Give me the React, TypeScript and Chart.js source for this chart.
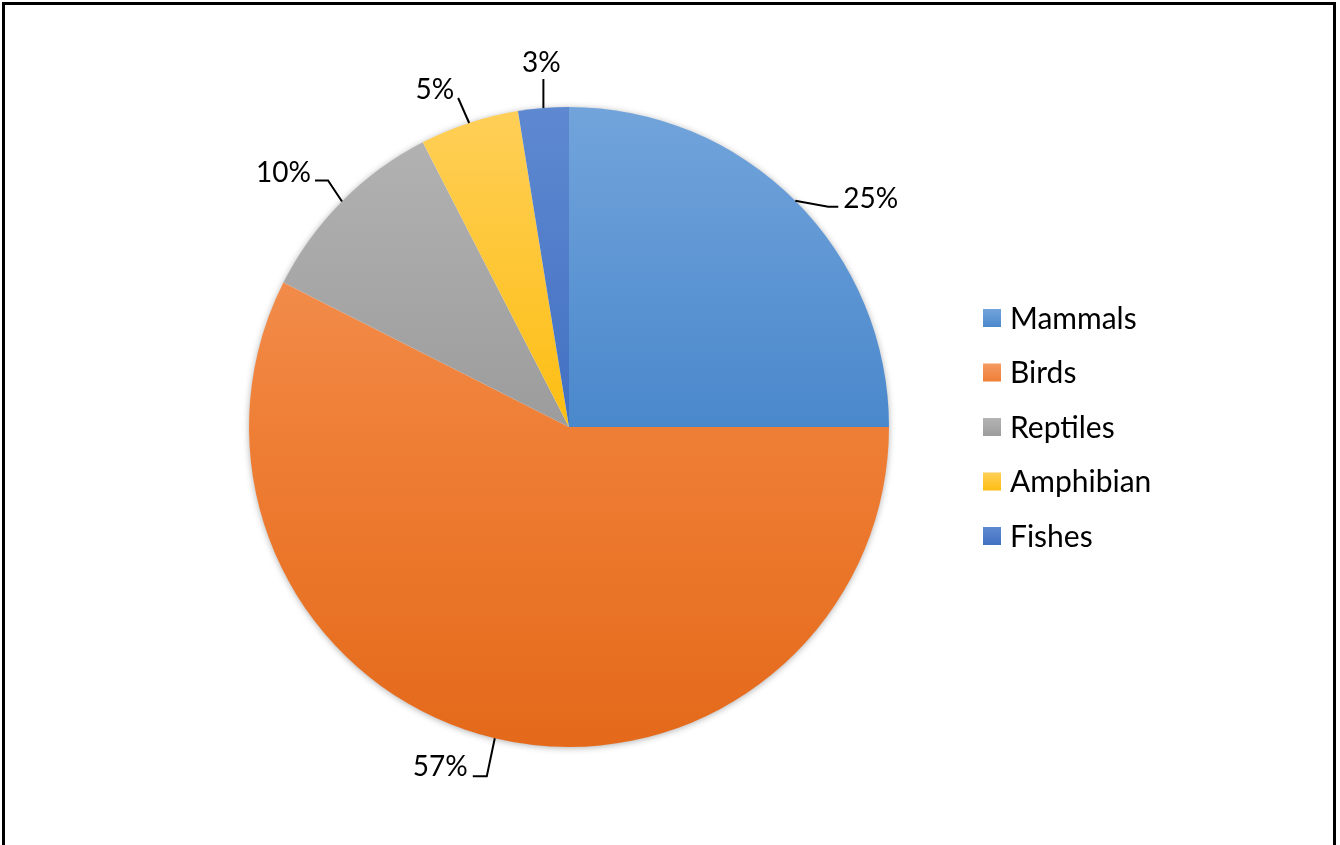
import React, { useEffect, useRef } from "react";
import { Chart, registerables } from "chart.js";

Chart.register(...registerables);

// ---- data ----
const categories = ["Mammals", "Birds", "Reptiles", "Amphibian", "Fishes"];
const shares = [25, 57.45, 10, 5, 2.55];

// ---- styles ----
const topColors = ["#72a4db", "#f59a62", "#b4b4b4", "#ffcf58", "#5e89d1"];
const midColors = ["#4a88cc", "#ef7f36", "#9c9c9c", "#fdbe12", "#4270c2"];
const bottomColors = ["#3f7dc3", "#e4691a", "#909090", "#f0b000", "#3764b6"];
const FONT = "Lato, 'Open Sans', sans-serif";
const LABEL_FONT_SIZE = 28;
const LEGEND_FONT_SIZE = 30;

// label layout relative to the slice's outer edge midpoint
const labelLayout = [
  { line: [[33, 6], [43, 6]], text: [48, -3], align: "left" },
  { line: [[-8, 38], [-22, 38]], text: [-27, 28], align: "right" },
  { line: [[-14, -21], [-27, -21]], text: [-31, -29], align: "right" },
  { line: [[-11, -25]], text: [-15, -34], align: "right" },
  { line: [[0, -29]], text: [-2, -46], align: "center" },
];

const shadowPlugin = {
  id: "pieShadow",
  beforeDatasetsDraw(chart: any) {
    const arc = chart.getDatasetMeta(0).data[0];
    if (!arc) return;
    const { x, y, outerRadius } = arc.getProps(["x", "y", "outerRadius"], true);
    const ctx = chart.ctx;
    ctx.save();
    ctx.shadowColor = "rgba(0,0,0,0.35)";
    ctx.shadowBlur = 7;
    ctx.shadowOffsetY = 1;
    ctx.fillStyle = "#ffffff";
    ctx.beginPath();
    ctx.arc(x, y, outerRadius - 0.5, 0, Math.PI * 2);
    ctx.fill();
    ctx.restore();
  },
};

const labelPlugin = {
  id: "pieLabels",
  afterDatasetsDraw(chart: any) {
    const ctx = chart.ctx;
    const meta = chart.getDatasetMeta(0);
    const values: number[] = chart.data.datasets[0].data;
    const total = values.reduce((a, b) => a + b, 0);
    ctx.save();
    ctx.strokeStyle = "#000";
    ctx.lineWidth = 2;
    ctx.fillStyle = "#000";
    ctx.font = `${LABEL_FONT_SIZE}px ${FONT}`;
    ctx.textBaseline = "middle";
    meta.data.forEach((arc: any, i: number) => {
      const { x, y, startAngle, endAngle, outerRadius } = arc.getProps(
        ["x", "y", "startAngle", "endAngle", "outerRadius"],
        true
      );
      const mid = (startAngle + endAngle) / 2;
      const ex = x + Math.cos(mid) * outerRadius;
      const ey = y + Math.sin(mid) * outerRadius;
      const lay = labelLayout[i];
      ctx.beginPath();
      ctx.moveTo(ex, ey);
      lay.line.forEach((p) => ctx.lineTo(ex + p[0], ey + p[1]));
      ctx.stroke();
      ctx.textAlign = lay.align;
      const pct = Math.round((values[i] / total) * 100);
      ctx.fillText(`${pct}%`, ex + lay.text[0], ey + lay.text[1] + 1);
    });
    ctx.restore();
  },
};

const legendPlugin = {
  id: "sideLegend",
  afterDraw(chart: any) {
    const ctx = chart.ctx;
    const area = chart.chartArea;
    const cy = (area.top + area.bottom) / 2;
    const left = area.right + 94;
    const gap = 54.5;
    const n = chart.data.labels.length;
    ctx.save();
    ctx.font = `${LEGEND_FONT_SIZE}px ${FONT}`;
    ctx.textBaseline = "middle";
    ctx.textAlign = "left";
    chart.data.labels.forEach((label: string, i: number) => {
      const yy = cy + (i - (n - 1) / 2) * gap;
      const g = ctx.createLinearGradient(0, yy - 9, 0, yy + 9);
      g.addColorStop(0, topColors[i]);
      g.addColorStop(1, midColors[i]);
      ctx.fillStyle = g;
      ctx.fillRect(left, yy - 9, 18, 18);
      ctx.fillStyle = "#000";
      ctx.fillText(label, left + 27, yy + 1);
    });
    ctx.restore();
  },
};

export default function App() {
  const ref = useRef<HTMLCanvasElement>(null);

  useEffect(() => {
    if (!ref.current) return;
    const chart = new Chart(ref.current, {
      type: "pie",
      data: {
        labels: categories,
        datasets: [
          {
            data: shares,
            borderWidth: 0,
            backgroundColor: (c: any) => {
              const i = c.dataIndex;
              const area = c.chart.chartArea;
              if (!area) return midColors[i];
              const g = c.chart.ctx.createLinearGradient(0, area.top, 0, area.bottom);
              g.addColorStop(0, topColors[i]);
              g.addColorStop(0.5, midColors[i]);
              g.addColorStop(1, bottomColors[i]);
              return g;
            },
          },
        ],
      },
      options: {
        responsive: false,
        maintainAspectRatio: false,
        animation: false,
        layout: { padding: { left: 249, top: 107, right: 451, bottom: 98 } },
        plugins: {
          legend: { display: false },
          tooltip: { enabled: false },
        },
      },
      plugins: [shadowPlugin, labelPlugin, legendPlugin],
    });
    return () => chart.destroy();
  }, []);

  return (
    <div
      style={{
        position: "fixed",
        left: 0,
        top: 0,
        width: 1340,
        height: 845,
        background: "#fff",
        overflow: "hidden",
      }}
    >
      <canvas
        ref={ref}
        width={1340}
        height={845}
        style={{ position: "absolute", left: 0, top: 0, width: 1340, height: 845 }}
      />
      <div
        style={{
          position: "absolute",
          left: 2,
          top: 2,
          width: 1334,
          height: 900,
          border: "3px solid #000",
          boxSizing: "border-box",
          pointerEvents: "none",
        }}
      />
    </div>
  );
}
